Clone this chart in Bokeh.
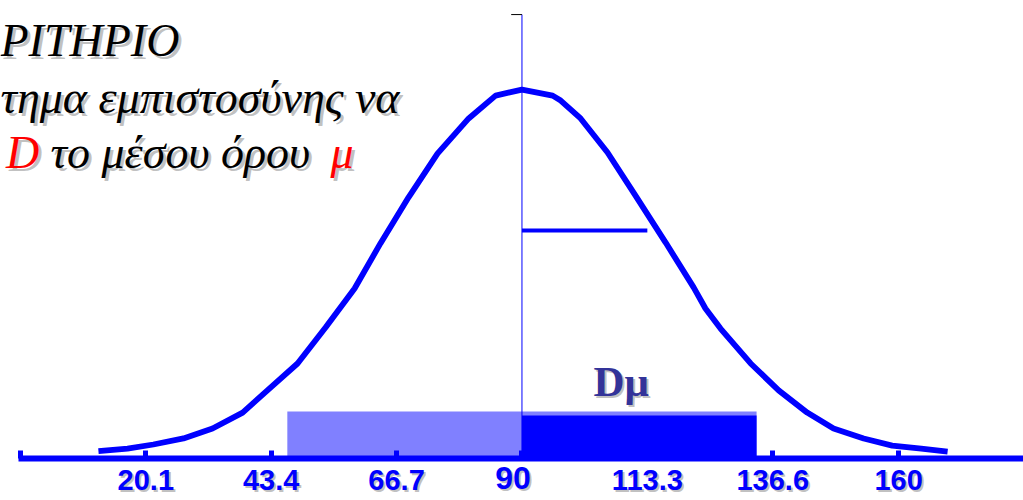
from bokeh.plotting import figure
from bokeh.models import FixedTicker, Range1d, ColumnDataSource
from bokeh.core.properties import value
from bokeh.embed import file_html
from bokeh.resources import INLINE

# Normal curve (mean 90, sd 23.3), heights as density x 1000
curve_x = [11.3, 16.7, 21.5, 27.1, 32.5, 38.1, 42.7, 48.3, 53.5, 58.9, 63.7, 68.9,
           74.3, 80.1, 85.1, 90.0, 95.7, 97.2, 100.9, 105.9, 111.1, 116.7, 121.9,
           124.1, 126.9, 132.5, 137.7, 143.0, 147.9, 153.5, 158.8, 164.2, 169.1]
curve_y = [0.34, 0.46, 0.65, 0.93, 1.39, 2.13, 3.16, 4.41, 6.08, 7.89, 9.98, 12.11,
           14.15, 15.78, 16.84, 17.12, 16.84, 16.61, 15.78, 14.20, 12.20, 10.02, 7.94,
           6.96, 6.03, 4.41, 3.16, 2.13, 1.39, 0.93, 0.60, 0.46, 0.32]

mean = 90.0
sd = 23.3
sd_height = 10.58
mean_line_top = 20.6

# Interval bars: full interval (light) and upper half (dark)
bar_left = [46.4, 90.0]
bar_right = [133.6, 133.6]
bar_top = [2.18, 2.0]
bar_color = ["#8080ff", "#0000ff"]

tick_values = [-3.2, 20.1, 43.4, 66.7, 90.0, 113.3, 136.6, 160.0, 183.3]
tick_labels = ["", "20.1", "43.4", "66.7", "90", "113.3", "136.6", "160", ""]

title_lines = ["ΡΙΤΗΡΙΟ", "τημα εμπιστοσύνης να"]
line3_parts = ["D", "το μέσου όρου", "μ"]
line3_x = [-5.9, 2.4, 54.4]
line3_colors = ["#ff0000", "#000000", "#ff0000"]
interval_label = "Dμ"

BLUE = "#0000ff"
X0, X1 = -6.9, 183.2
Y0, Y1 = -1.949, 21.253

p = figure(width=1023, height=500,
           x_range=Range1d(X0, X1), y_range=Range1d(Y0, Y1),
           output_backend="svg", toolbar_location=None,
           y_axis_location=None,
           min_border_left=0, min_border_right=0, min_border_top=0, min_border_bottom=0)
p.outline_line_color = None
p.grid.visible = False
p.background_fill_color = "white"
p.border_fill_color = "white"

# horizontal axis pinned to y = 0 inside the plot area
ax = p.xaxis[0]
ax.fixed_location = 0
ax.ticker = FixedTicker(ticks=tick_values)
ax.major_label_overrides = {v: "" for v in tick_values}
ax.bounds = (-3.6, 184.0)
ax.axis_line_color = BLUE
ax.axis_line_width = 6
ax.major_tick_line_color = BLUE
ax.major_tick_line_width = 5
ax.major_tick_in = 8
ax.major_tick_out = 0
ax.minor_tick_line_color = None

bars = ColumnDataSource(dict(left=bar_left, right=bar_right, top=bar_top,
                             bottom=[0, 0], color=bar_color))
p.quad(left="left", right="right", top="top", bottom="bottom",
       fill_color="color", line_color=None, source=bars)

p.line(curve_x, curve_y, line_color=BLUE, line_width=5.8)

p.segment(x0=[mean], y0=[0], x1=[mean], y1=[mean_line_top], line_color=BLUE, line_width=1)
p.segment(x0=[mean - 2.0], y0=[mean_line_top], x1=[mean], y1=[mean_line_top],
          line_color="black", line_width=1)
p.segment(x0=[mean], y0=[sd_height], x1=[mean + sd], y1=[sd_height],
          line_color=BLUE, line_width=4)


def shadowed(texts, xs, ys, size, colors, font, style, align="left", shadow=2, dx=0):
    n = len(texts)
    if isinstance(colors, str):
        colors = [colors] * n
    src = ColumnDataSource(dict(x=xs, y=ys, text=texts, color=colors))
    p.text(x="x", y="y", text="text", source=src, x_offset=dx + shadow, y_offset=shadow,
           text_font=value(font), text_font_size=size, text_font_style=style,
           text_color="#8c8c8c", text_alpha=0.55, text_align=align,
           text_baseline="alphabetic")
    p.text(x="x", y="y", text="text", source=src, x_offset=dx,
           text_font=value(font), text_font_size=size, text_font_style=style,
           text_color="color", text_align=align, text_baseline="alphabetic")


# tick labels under the axis
small = [(v, t) for v, t in zip(tick_values, tick_labels) if t and t != "90"]
shadowed([t for _, t in small], [v for v, _ in small], [-1.02] * len(small),
         "29px", BLUE, "Liberation Sans", "bold", align="center")
shadowed(["90"], [mean], [-0.90], "32px", BLUE, "Liberation Sans", "bold",
         align="center", dx=-9)

# heading text
shadowed(title_lines, [X0, X0], [19.40, 16.75], "46px", "black",
         "Liberation Serif", "italic", shadow=3)
shadowed(line3_parts, line3_x, [14.20] * 3, "46px", line3_colors,
         "Liberation Serif", "italic", shadow=3)

shadowed([interval_label], [103.3], [3.57], "43px", "#333399", "Liberation Serif", "bold")

open("out.html", "w").write(file_html(p, INLINE))
